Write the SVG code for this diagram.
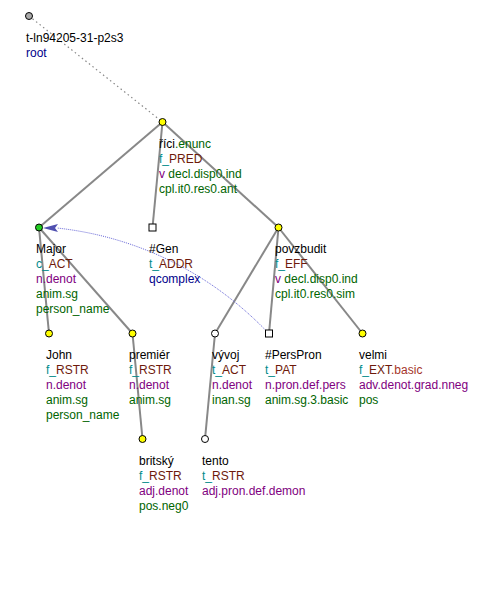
<svg xmlns="http://www.w3.org/2000/svg" width="500" height="593" viewBox="0 0 500 593">
<style>
text{font-family:"Liberation Sans",Arial,sans-serif;font-size:12px;fill:#000}
.e{stroke:#888;stroke-width:2;fill:none}
.n{stroke:#000;stroke-width:1}
.g{fill:#006400}.t{fill:#008b8b}.b{fill:#6e1a0a}.p{fill:#800080}.d{fill:#00008b}.r{fill:#a5352a}
</style>
<rect width="500" height="593" fill="#fff"/>
<g id="connectors">
<line x1="29" y1="16" x2="162.5" y2="122" stroke="#888" stroke-width="1.2" stroke-dasharray="1.5,3"/>
<line class="e" x1="162.5" y1="122" x2="39" y2="227.5"/>
<line class="e" x1="162.5" y1="122" x2="152.5" y2="227.5"/>
<line class="e" x1="162.5" y1="122" x2="278.5" y2="227.5"/>
<line class="e" x1="39" y1="227.5" x2="49" y2="333.5"/>
<line class="e" x1="39" y1="227.5" x2="132.5" y2="333.5"/>
<line class="e" x1="132.5" y1="333.5" x2="142.5" y2="439"/>
<line class="e" x1="278.5" y1="227.5" x2="215" y2="333.5"/>
<line class="e" x1="278.5" y1="227.5" x2="269" y2="333.5"/>
<line class="e" x1="278.5" y1="227.5" x2="362.5" y2="333.5"/>
<line class="e" x1="215" y1="333.5" x2="205" y2="439"/>
<path d="M269,333.5 C255,320 185,242 57,228" fill="none" stroke="#6a6ad8" stroke-width="1" stroke-dasharray="1,1"/>
<path d="M43,228 L58,224 L55,228 L58,232 Z" fill="#5050b0"/>
</g>
<g id="n-root">
<circle class="n" cx="29" cy="16" r="3.5" fill="#aaa"/>
<text x="26" y="42">t-ln94205-31-p2s3</text>
<text x="26" y="57" class="d">root</text>
</g>
<g id="n-rici">
<circle class="n" cx="162.5" cy="122" r="3.5" fill="#ff0"/>
<text x="159" y="148">říci<tspan class="g">.enunc</tspan></text>
<text x="159" y="163"><tspan class="t">f_</tspan><tspan class="b">PRED</tspan></text>
<text x="159" y="178"><tspan class="p">v</tspan><tspan class="g"> decl.disp0.ind</tspan></text>
<text x="159" y="193" class="g">cpl.it0.res0.ant</text>
</g>
<g id="n-major">
<circle class="n" cx="39" cy="227.5" r="3.5" fill="#2c2"/>
<text x="36" y="253">Major</text>
<text x="36" y="268"><tspan class="t">c_</tspan><tspan class="b">ACT</tspan></text>
<text x="36" y="283" class="p">n.denot</text>
<text x="36" y="298" class="g">anim.sg</text>
<text x="36" y="313" class="g">person_name</text>
</g>
<g id="n-gen">
<rect class="n" x="149" y="224" width="7" height="7" fill="#fff"/>
<text x="149" y="253">#Gen</text>
<text x="149" y="268"><tspan class="t">t_</tspan><tspan class="b">ADDR</tspan></text>
<text x="149" y="283" class="d">qcomplex</text>
</g>
<g id="n-povzbudit">
<circle class="n" cx="278.5" cy="227.5" r="3.5" fill="#ff0"/>
<text x="275" y="253">povzbudit</text>
<text x="275" y="268"><tspan class="t">f_</tspan><tspan class="b">EFF</tspan></text>
<text x="275" y="283"><tspan class="p">v</tspan><tspan class="g"> decl.disp0.ind</tspan></text>
<text x="275" y="298" class="g">cpl.it0.res0.sim</text>
</g>
<g id="n-john">
<circle class="n" cx="49" cy="333.5" r="3.5" fill="#ff0"/>
<text x="46" y="359">John</text>
<text x="46" y="374"><tspan class="t">f_</tspan><tspan class="b">RSTR</tspan></text>
<text x="46" y="389" class="p">n.denot</text>
<text x="46" y="404" class="g">anim.sg</text>
<text x="46" y="419" class="g">person_name</text>
</g>
<g id="n-premier">
<circle class="n" cx="132.5" cy="333.5" r="3.5" fill="#ff0"/>
<text x="129" y="359">premiér</text>
<text x="129" y="374"><tspan class="t">f_</tspan><tspan class="b">RSTR</tspan></text>
<text x="129" y="389" class="p">n.denot</text>
<text x="129" y="404" class="g">anim.sg</text>
</g>
<g id="n-vyvoj">
<circle class="n" cx="215" cy="333.5" r="3.5" fill="#fff"/>
<text x="212" y="359">vývoj</text>
<text x="212" y="374"><tspan class="t">t_</tspan><tspan class="b">ACT</tspan></text>
<text x="212" y="389" class="p">n.denot</text>
<text x="212" y="404" class="g">inan.sg</text>
</g>
<g id="n-perspron">
<rect class="n" x="265.5" y="330" width="7" height="7" fill="#fff"/>
<text x="265" y="359">#PersPron</text>
<text x="265" y="374"><tspan class="t">t_</tspan><tspan class="b">PAT</tspan></text>
<text x="265" y="389" class="p">n.pron.def.pers</text>
<text x="265" y="404" class="g">anim.sg.3.basic</text>
</g>
<g id="n-velmi">
<circle class="n" cx="362.5" cy="333.5" r="3.5" fill="#ff0"/>
<text x="359" y="359">velmi</text>
<text x="359" y="374"><tspan class="t">f_</tspan><tspan class="b">EXT</tspan><tspan class="r">.basic</tspan></text>
<text x="359" y="389" class="p">adv.denot.grad.nneg</text>
<text x="359" y="404" class="g">pos</text>
</g>
<g id="n-britsky">
<circle class="n" cx="142.5" cy="439" r="3.5" fill="#ff0"/>
<text x="139" y="465">britský</text>
<text x="139" y="480"><tspan class="t">f_</tspan><tspan class="b">RSTR</tspan></text>
<text x="139" y="495" class="p">adj.denot</text>
<text x="139" y="510" class="g">pos.neg0</text>
</g>
<g id="n-tento">
<circle class="n" cx="205" cy="439" r="3.5" fill="#fff"/>
<text x="202" y="465">tento</text>
<text x="202" y="480"><tspan class="t">t_</tspan><tspan class="b">RSTR</tspan></text>
<text x="202" y="495" class="p">adj.pron.def.demon</text>
</g>
</svg>
